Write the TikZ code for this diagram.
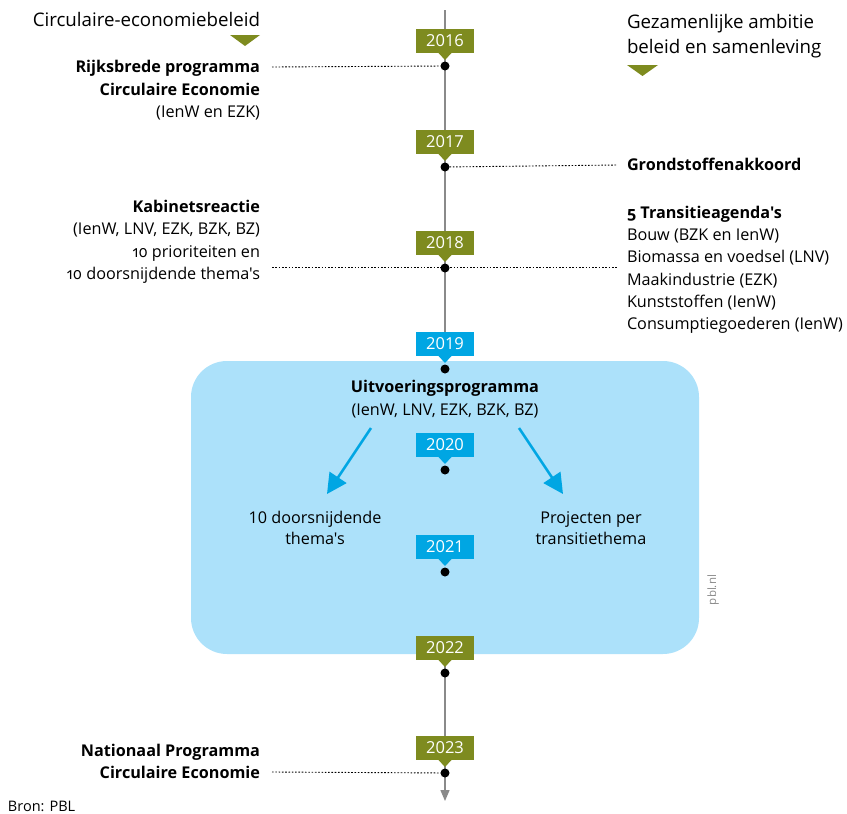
\documentclass[tikz,border=0pt]{standalone}
\usepackage{fontspec}
\setmainfont[Ligatures=TeXOff]{Open Sans}
\usetikzlibrary{arrows.meta}
\definecolor{olive}{HTML}{7E8B1F}
\definecolor{pblblue}{HTML}{00A6E3}
\definecolor{boxblue}{HTML}{ACE1FA}
\definecolor{tline}{HTML}{8A8A8A}
\newcommand{\onum}[1]{{\addfontfeatures{Numbers=OldStyle}#1}}
\begin{document}
\begin{tikzpicture}[x=1pt,y=-1pt,
  every node/.style={inner sep=0pt, outer sep=0pt},
  txt/.style={font=\fontsize{16.2}{22.5}\selectfont, text=black},
  head/.style={font=\fontsize{18.7}{25}\selectfont, text=black},
  yeartag/.style={fill=#1, text=white, minimum width=58pt, minimum height=24pt, font=\fontsize{16.5}{16.5}\selectfont},
  dot/.style={circle, fill=black, minimum size=9pt},
  dotline/.style={black, line width=0.9pt, dash pattern=on 1.6pt off 1.7pt},
  bluearrow/.style={pblblue, line width=2.6pt, -{Triangle[width=20pt,length=20pt]}},
]
\useasboundingbox (0,0) rectangle (847,814);

% timeline (under the box)
\coordinate (ttop) at (445,10);
\coordinate (tbot) at (445,801);
\draw[tline, line width=1.3pt, -{Triangle[width=9pt,length=11pt]}] (ttop) -- (tbot);

% blue box
\node[fill=boxblue, rounded corners=36pt, minimum width=508pt, minimum height=293pt] (box) at (445,507.5) {};

% year tags and dots
\newcommand{\yeartag}[4]{%
  \node[yeartag=#3] (t#1) at (445,#2) {#4};
  \fill[#3] ([xshift=-6.5pt]t#1.south) -- ([xshift=6.5pt]t#1.south) -- ([yshift=-7pt]t#1.south) -- cycle;
  \node[dot] (d#1) at (445,#2+25) {};
}
\yeartag{16}{41}{olive}{2016}
\yeartag{17}{142}{olive}{2017}
\yeartag{18}{243}{olive}{2018}
\yeartag{19}{344}{pblblue}{2019}
\yeartag{20}{445}{pblblue}{2020}
\yeartag{21}{547}{pblblue}{2021}
\yeartag{22}{648}{olive}{2022}
\yeartag{23}{748}{olive}{2023}

% headings
\node[head, anchor=base east] (hl) at (260,26.5) {Circulaire-economiebeleid};
\fill[olive] (230,35) -- (260,35) -- (245,46) -- cycle;
\node[head, anchor=base west, align=left] (hr) at (627,53.3) {Gezamenlijke ambitie\\beleid en samenleving};
\fill[olive] (627,65) -- (658,65) -- (642.5,76) -- cycle;

% left events (base anchor = last line baseline)
\node[txt, anchor=base east, align=right] (rijk) at (260,117.5) {\textbf{Rijksbrede programma}\\\textbf{Circulaire Economie}\\(IenW en EZK)};
\coordinate (rijkc) at (272,67);
\draw[dotline] (rijkc) -- (d16);

\node[txt, anchor=base east, align=right] (kab) at (260,279.5) {\textbf{Kabinetsreactie}\\(IenW, LNV, EZK, BZK, BZ)\\\onum{10} prioriteiten en\\\onum{10} doorsnijdende thema's};
\coordinate (kabl) at (272,267);
\coordinate (kabr) at (617,267);
\draw[dotline] (kabl) -- (kabr);

\node[txt, anchor=base east, align=right] (nat) at (260,778.5) {\textbf{Nationaal Programma}\\\textbf{Circulaire Economie}};
\coordinate (natc) at (272,772);
\draw[dotline] (natc) -- (d23);

% right events
\node[txt, anchor=base west] (grond) at (627,170.5) {\textbf{Grondstoffenakkoord}};
\coordinate (grondc) at (617,165);
\draw[dotline] (d17) -- (grondc);

\node[txt, anchor=base west, align=left, font=\fontsize{16.2}{22.3}\selectfont] (trans) at (627,329.8) {\textbf{\onum{5} Transitieagenda's}\\Bouw (BZK en IenW)\\Biomassa en voedsel (LNV)\\Maakindustrie (EZK)\\Kunststoffen (IenW)\\Consumptiegoederen (IenW)};

% box contents
\node[txt, anchor=base, align=center, font=\fontsize{16.2}{23.5}\selectfont] (uit) at (445,415.5) {\textbf{Uitvoeringsprogramma}\\(IenW, LNV, EZK, BZK, BZ)};
\node[txt, anchor=base, align=center, font=\fontsize{16.2}{21.5}\selectfont] (thema) at (315,544.5) {10 doorsnijdende\\thema's};
\node[txt, anchor=base, align=center, font=\fontsize{16.2}{21.5}\selectfont] (proj) at (591,544.5) {Projecten per\\transitiethema};
\coordinate (al) at (371,428);
\coordinate (ar) at (519,428);
\coordinate (alt) at (327,494);
\coordinate (art) at (563,494);
\draw[bluearrow] (al) -- (alt);
\draw[bluearrow] (ar) -- (art);

\node[rotate=90, anchor=base, text=tline, font=\fontsize{11.5}{12}\selectfont] (pbl) at (716,590) {pbl.nl};

\node[anchor=base west, font=\fontsize{14.5}{15}\selectfont] (bron) at (8,811) {Bron: PBL};
\end{tikzpicture}
\end{document}
